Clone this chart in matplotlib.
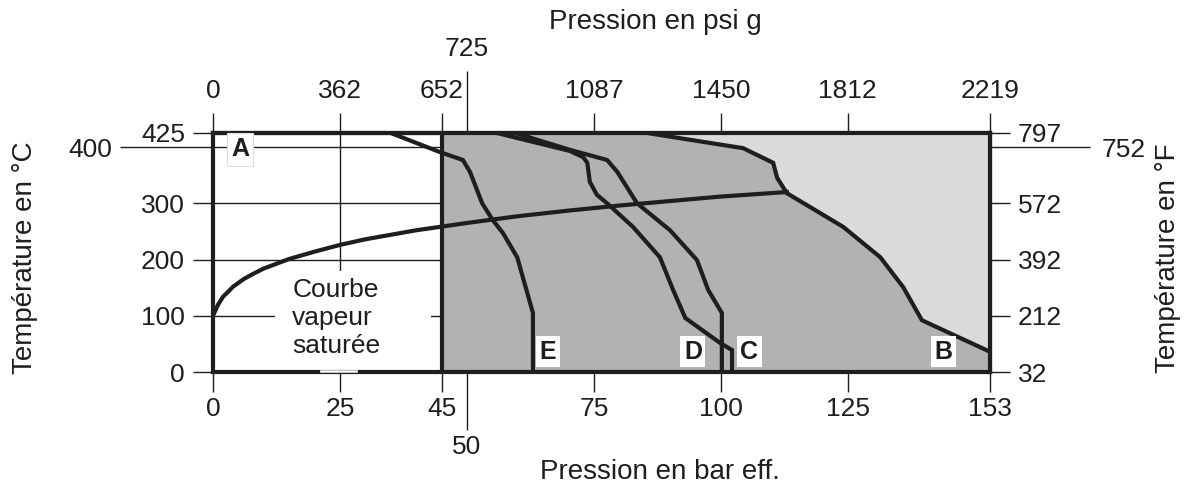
import matplotlib.pyplot as plt
from matplotlib.patches import Rectangle

plt.rcParams["font.family"] = ["Liberation Sans", "DejaVu Sans"]

INK = "#1e1e1e"
DARK = "#b2b2b2"
LIGHT = "#dadada"

# pressure axis (bar eff.) and the matching psi g labels
bar_ticks = [0, 25, 45, 75, 100, 125, 153]
psi_labels = ["0", "362", "652", "1087", "1450", "1812", "2219"]
bar_extra = [50]
psi_extra = ["725"]

# temperature axis (°C) and the matching °F labels
degc_ticks = [0, 100, 200, 300, 425]
degf_labels = ["32", "212", "392", "572", "797"]
degc_extra = [400]
degf_extra = ["752"]

# saturated steam curve
sat_p = [0, 1, 2, 4, 6, 8, 10, 15, 20, 25, 30, 40, 50, 60, 70, 80, 90, 100, 113]
sat_t = [100, 120, 134, 152, 165, 175, 184, 201, 214, 226, 236, 252, 265, 277,
         287, 296, 304, 312, 320]

# limit curves
e_p = [35, 44.7, 49.2, 50.6, 53.0, 55.1, 57.1, 59.9, 63.0, 63.0]
e_t = [425, 391, 377, 356, 300, 270, 247, 204, 105, 0]

c_p = [55.9, 70.3, 72.9, 73.7, 74.2, 75.6, 77.6, 82.7, 88.0, 90.6, 93.0, 99.8, 102.2, 102.2]
c_t = [425, 393, 382, 372, 338, 315, 300, 258, 204, 146, 96, 52, 39, 0]

d_p = [59.5, 70.3, 77.6, 79.6, 83.5, 90.0, 95.3, 97.5, 100.2, 100.2]
d_t = [425, 395, 377, 356, 300, 252, 199, 146, 105, 0]

b_p = [85.5, 104.4, 110.3, 111.1, 113.0, 124.1, 131.4, 135.9, 139.6, 153]
b_t = [425, 398, 372, 345, 318, 258, 204, 151, 92, 36]

fig = plt.figure(figsize=(11.84, 4.88), dpi=100)
ax = fig.add_axes([213 / 1184, 116 / 488, 777 / 1184, 239 / 488])
ax.set_xlim(0, 153)
ax.set_ylim(0, 425)

# zones
ax.fill_between([45, 153], 0, 425, color=DARK, lw=0, zorder=1.5)
ax.fill(b_p + [153], b_t + [425], color=LIGHT, lw=0, zorder=1.6)
ax.axvline(45, color=INK, lw=3, zorder=3)

# white box behind the saturation-curve caption
ax.add_patch(Rectangle((12.2, 3.6), 30.7, 176.4, fc="white", lw=0, zorder=2))
ax.add_patch(Rectangle((21.1, -0.5), 7.3, 4.5, fc="white", ec="#cfcfcf", lw=0.6,
                       zorder=4, clip_on=False))

for xs, ys in [(sat_p, sat_t), (e_p, e_t), (c_p, c_t), (d_p, d_t), (b_p, b_t)]:
    ax.plot(xs, ys, color=INK, lw=3, zorder=3, solid_joinstyle="miter")

ax.text(15.6, 96, "Courbe\nvapeur\nsaturée", ha="left", va="center",
        multialignment="left", fontsize=19, color=INK, linespacing=1.2, zorder=5)

box = dict(fc="white", ec="none", pad=2.5)
ax.text(5.3, 396, "A", ha="center", va="center", fontsize=18, fontweight="bold",
        color=INK, bbox=dict(fc="white", ec="#dddddd", lw=0.8, pad=3), zorder=5)
for name, x in [("E", 66.0), ("D", 94.5), ("C", 105.6), ("B", 143.8)]:
    ax.text(x, 35.6, name, ha="center", va="center", fontsize=18,
            fontweight="bold", color=INK, bbox=box, zorder=5)

# grid and frame
ax.set_axisbelow(True)
for s in ax.spines.values():
    s.set_linewidth(3)
    s.set_color(INK)

ax.set_xticks(bar_ticks, labels=[str(v) for v in bar_ticks])
ax.set_xticks(bar_extra, labels=[str(v) for v in bar_extra], minor=True)
ax.set_yticks(degc_ticks, labels=[str(v) for v in degc_ticks])
ax.set_yticks(degc_extra, labels=[str(v) for v in degc_extra], minor=True)
ax.grid(which="both", color=INK, lw=1)
ax.tick_params(which="both", direction="out", width=1, color=INK,
               labelsize=19, labelcolor=INK)
ax.tick_params(axis="x", which="major", length=14.4, pad=3.6)
ax.tick_params(axis="x", which="minor", length=42, pad=3.6)
ax.tick_params(axis="y", which="major", length=14.4, pad=5.8)
ax.tick_params(axis="y", which="minor", length=67, pad=5.8)

top = ax.secondary_xaxis("top")
top.set_ticks(bar_ticks, labels=psi_labels)
top.set_ticks(bar_extra, labels=psi_extra, minor=True)
top.tick_params(which="both", direction="out", width=1, color=INK,
                labelsize=19, labelcolor=INK)
top.tick_params(which="major", length=14.4, pad=7)
top.tick_params(which="minor", length=45, pad=7)
top.spines["top"].set_linewidth(3)
top.spines["top"].set_color(INK)

right = ax.secondary_yaxis("right")
right.set_ticks(degc_ticks, labels=degf_labels)
right.set_ticks(degc_extra, labels=degf_extra, minor=True)
right.tick_params(which="both", direction="out", width=1, color=INK,
                  labelsize=19, labelcolor=INK)
right.tick_params(which="major", length=14.4, pad=5.8)
right.tick_params(which="minor", length=72, pad=8.6)
right.spines["right"].set_linewidth(3)
right.spines["right"].set_color(INK)

fig.text(655 / 1184, 1 - 22 / 488, "Pression en psi g", ha="center", va="center",
         fontsize=20, color=INK)
fig.text(660 / 1184, 1 - 472 / 488, "Pression en bar eff.", ha="center",
         va="center", fontsize=20, color=INK)
fig.text(25 / 1184, 1 - 258 / 488, "Température en °C", ha="center", va="center",
         rotation=90, fontsize=20, color=INK)
fig.text(1168 / 1184, 1 - 258 / 488, "Température en °F", ha="center",
         va="center", rotation=90, fontsize=20, color=INK)

fig.savefig("out.png", dpi=100, facecolor="white")
